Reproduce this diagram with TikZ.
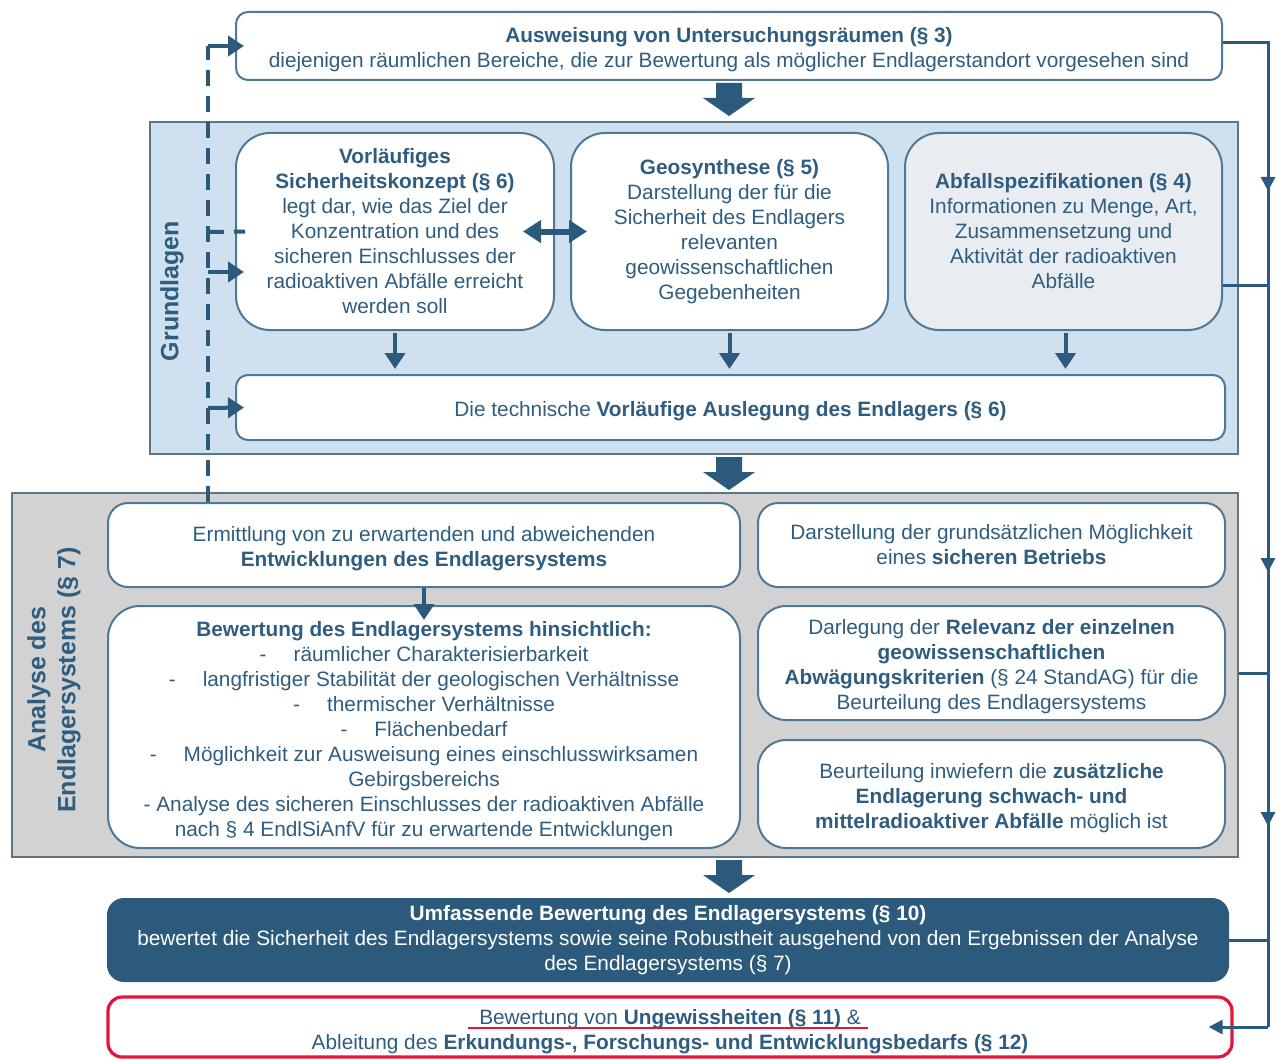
\documentclass[tikz,border=0pt]{standalone}
\usepackage{fontspec}
\setmainfont{Liberation Sans}
\usetikzlibrary{arrows.meta,calc}
\definecolor{dblue}{HTML}{2B5A7C}
\definecolor{txt}{HTML}{2F5D80}
\definecolor{bord}{HTML}{4F7896}
\definecolor{pbord}{HTML}{5E7487}
\definecolor{lblue}{HTML}{CFE1EF}
\definecolor{lgray}{HTML}{D2D2D2}
\definecolor{abfc}{HTML}{E9ECF1}
\definecolor{redc}{HTML}{E2163C}
\newcommand\fatarrow[2]{\fill[dblue] (#1-13,#2) -- (#1+13,#2) -- (#1+13,#2+15) -- (#1+26,#2+15) -- (#1,#2+33) -- (#1-26,#2+15) -- (#1-13,#2+15) -- cycle;}
\newcommand\fs{\rule{0pt}{11.5pt}}
\begin{document}
\begin{tikzpicture}[x=0.5pt,y=-0.5pt,
  font=\fontsize{10.4}{12.5}\selectfont, text=txt,
  box/.style={draw=bord, line width=1pt, fill=white, inner sep=0pt, align=center, rounded corners=6pt},
  rbox/.style={box, rounded corners=17pt, minimum height=98.5pt},
  mbox/.style={box, rounded corners=10pt},
  panel/.style={draw=pbord, line width=0.8pt, inner sep=0pt},
  lab/.style={rotate=90, font=\bfseries\fontsize{12.5}{15}\selectfont, align=center},
  sarrow/.style={draw=dblue, line width=2pt, -{Triangle[width=10pt,length=8pt]}},
  darrow/.style={draw=dblue, line width=3pt, {Triangle[width=11pt,length=9pt]}-{Triangle[width=11pt,length=9pt]}},
  rline/.style={draw=dblue, line width=1.5pt},
  rtip/.style={draw=dblue, line width=1.5pt, -{Triangle[width=7pt,length=7pt]}},
  dline/.style={draw=dblue, line width=2pt, dash pattern=on 8pt off 5pt}]
\useasboundingbox (0,0) rectangle (1277,1059);

% panels
\node[panel, fill=lblue, minimum width=544pt, minimum height=166pt] (grund) at (694,288) {};
\node[panel, fill=lgray, minimum width=613pt, minimum height=182pt] (anal) at (625,675) {};
\node[lab] (lg) at (172,291) {Grundlagen};
\node[lab] (la) at (54,680) {Analyse des\\Endlagersystems (§ 7)};

% boxes
\node[box, minimum width=493pt, minimum height=34pt] (top) at (729,46) {\fs\textbf{Ausweisung von Untersuchungsräumen (§ 3)}\\diejenigen räumlichen Bereiche, die zur Bewertung als möglicher Endlagerstandort vorgesehen sind};
\node[rbox, minimum width=159pt] (vs) at (395,231.5) {\textbf{Vorläufiges}\\\textbf{Sicherheitskonzept (§ 6)}\\legt dar, wie das Ziel der\\Konzentration und des\\sicheren Einschlusses der\\radioaktiven Abfälle erreicht\\werden soll};
\node[rbox, minimum width=158.5pt] (geo) at (729.5,231.5) {\textbf{Geosynthese (§ 5)}\\Darstellung der für die\\Sicherheit des Endlagers\\relevanten\\geowissenschaftlichen\\Gegebenheiten};
\node[rbox, fill=abfc, minimum width=158.5pt] (abf) at (1063.5,231.5) {\textbf{Abfallspezifikationen (§ 4)}\\Informationen zu Menge, Art,\\Zusammensetzung und\\Aktivität der radioaktiven\\Abfälle};
\node[box, minimum width=494.5pt, minimum height=32.5pt] (ausl) at (730.5,407.5) {\fs Die technische \textbf{Vorläufige Auslegung des Endlagers (§ 6)}};

\node[mbox, minimum width=316pt, minimum height=42pt] (erm) at (424,545) {\fs Ermittlung von zu erwartenden und abweichenden\\\textbf{Entwicklungen des Endlagersystems}};
\node[mbox, minimum width=233.5pt, minimum height=42pt] (dar) at (991.5,545) {Darstellung der grundsätzlichen Möglichkeit\\eines \textbf{sicheren Betriebs}};
\node[mbox, rounded corners=16pt, minimum width=316pt, minimum height=121pt] (bew) at (424,727) {\fs\textbf{Bewertung des Endlagersystems hinsichtlich:}\\
-\hspace{1.3em}räumlicher Charakterisierbarkeit\\
-\hspace{1.3em}langfristiger Stabilität der geologischen Verhältnisse\\
-\hspace{1.3em}thermischer Verhältnisse\\
-\hspace{1.3em}Flächenbedarf\\
-\hspace{1.3em}Möglichkeit zur Ausweisung eines einschlusswirksamen\\
Gebirgsbereichs\\
- Analyse des sicheren Einschlusses der radioaktiven Abfälle\\
nach § 4 EndlSiAnfV für zu erwartende Entwicklungen};
\node[mbox, rounded corners=14pt, minimum width=233.5pt, minimum height=57pt] (rel) at (991.5,663) {\fs Darlegung der \textbf{Relevanz der einzelnen}\\\textbf{geowissenschaftlichen}\\\textbf{Abwägungskriterien} (§ 24 StandAG) für die\\Beurteilung des Endlagersystems};
\node[mbox, rounded corners=14pt, minimum width=233.5pt, minimum height=54pt] (beu) at (991.5,794) {\fs Beurteilung inwiefern die \textbf{zusätzliche}\\\textbf{Endlagerung schwach- und}\\\textbf{mittelradioaktiver Abfälle} möglich ist};

\node[box, draw=dblue, fill=dblue, text=white, rounded corners=8pt, minimum width=560pt, minimum height=41pt] (dark) at (668,940) {\textbf{Umfassende Bewertung des Endlagersystems (§ 10)}\\bewertet die Sicherheit des Endlagersystems sowie seine Robustheit ausgehend von den Ergebnissen der Analyse\\des Endlagersystems (§ 7)};
\node[box, draw=redc, line width=1.6pt, rounded corners=7pt, minimum width=562pt, minimum height=30pt] (red) at (670,1027) {\rule{0pt}{12.5pt}Bewertung von \textbf{Ungewissheiten (§ 11)} \&\\Ableitung des \textbf{Erkundungs-, Forschungs- und Entwicklungsbedarfs (§ 12)}};
\draw[redc, line width=1.1pt] (468,1028) -- (868,1028);

% fat arrows
\fatarrow{729}{83}
\fatarrow{729}{457}
\fatarrow{729}{860}

% small arrows
\draw[sarrow] (vs.south) ++(0,2) -- ($(vs.south |- ausl.north)+(0,-5)$);
\draw[sarrow] (geo.south) ++(0,2) -- ($(geo.south |- ausl.north)+(0,-5)$);
\draw[sarrow] ($(abf.south)+(2,2)$) -- ($(abf.south |- ausl.north)+(2,-5)$);
\draw[darrow] ($(vs.east)+(-32,0)$) -- ($(geo.west)+(17,0)$);
\draw[sarrow] (erm.south) -- ($(bew.north)+(0,15)$);

% left dashed feedback
\coordinate (l0) at (208,46);
\coordinate (l1) at (208,272);
\coordinate (l2) at (208,408);
\coordinate (l3) at (208,232);
\draw[dline] (erm.north -| l0) -- (l0);
\draw[sarrow] (l0) -- ($(top.west)+(9,0)$);
\draw[sarrow] (l1) -- ($(vs.west |- l1)+(9,0)$);
\draw[sarrow] (l2) -- ($(ausl.west)+(9,0)$);
\draw[dline] (l3) -- ($(vs.west)+(10,0)$);

% right line
\coordinate (r0) at (1268,43);
\coordinate (r1) at (1268,285);
\coordinate (r2) at (1268,673);
\coordinate (r4) at (1268,1027);
\draw[rline] (top.east |- r0) -- (r0) -- (r4);
\draw[rline] (abf.east |- r1) -- (r1);
\draw[rline] (anal.east |- r2) -- (r2);
\draw[rline] (dark.east) -- (dark.east -| r0);
\draw[rtip] (1268,170) -- (1268,191);
\draw[rtip] (1268,552) -- (1268,572);
\draw[rtip] (1268,806) -- (1268,826);
\draw[rtip] (r4) -- ($(red.east)+(-25,0)$);
\end{tikzpicture}
\end{document}
